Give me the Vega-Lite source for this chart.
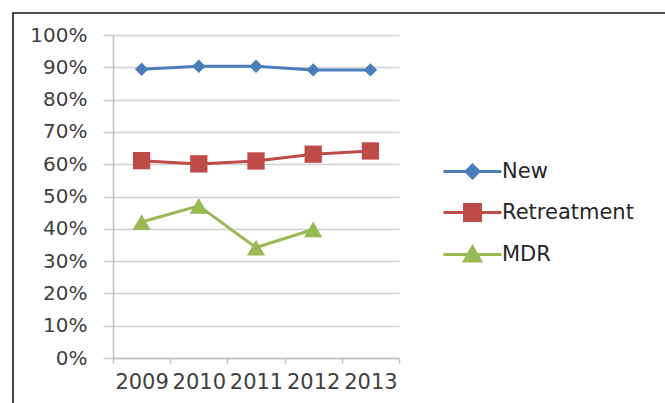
{
  "$schema": "https://vega.github.io/schema/vega-lite/v6.json",
  "autosize": "none",
  "width": 662,
  "height": 400,
  "padding": {"left": 13, "top": 13, "right": -10, "bottom": -10},
  "background": "white",
  "config": {
    "view": {"stroke": "#141414", "strokeWidth": 1.6},
    "font": "DejaVu Sans",
    "axis": {"labelFont": "DejaVu Sans", "labelColor": "#404040", "labelFontSize": 20}
  },
  "data": {
    "values": [
      {"year": "2009", "series": "New", "value": 0.894},
      {"year": "2010", "series": "New", "value": 0.903},
      {"year": "2011", "series": "New", "value": 0.903},
      {"year": "2012", "series": "New", "value": 0.892},
      {"year": "2013", "series": "New", "value": 0.892},
      {"year": "2009", "series": "Retreatment", "value": 0.611},
      {"year": "2010", "series": "Retreatment", "value": 0.601},
      {"year": "2011", "series": "Retreatment", "value": 0.61},
      {"year": "2012", "series": "Retreatment", "value": 0.631},
      {"year": "2013", "series": "Retreatment", "value": 0.641},
      {"year": "2009", "series": "MDR", "value": 0.421},
      {"year": "2010", "series": "MDR", "value": 0.471},
      {"year": "2011", "series": "MDR", "value": 0.342},
      {"year": "2012", "series": "MDR", "value": 0.398}
    ]
  },
  "encoding": {
    "x": {
      "field": "year", "type": "nominal", "sort": ["2009", "2010", "2011", "2012", "2013"],
      "scale": {"paddingInner": 0, "paddingOuter": 0, "range": [100, 386]},
      "axis": {
        "title": null, "labelAngle": 0, "tickBand": "extent", "tickSize": 5, "offset": -55,
        "tickColor": "#BFBFBF", "domainColor": "#BFBFBF", "domainWidth": 1.5, "tickWidth": 1.5,
        "labelPadding": 8, "labelFontSize": 21, "labelBaseline": "top"
      }
    },
    "y": {
      "field": "value", "type": "quantitative",
      "scale": {"domain": [0, 1], "nice": false, "range": [345, 22]},
      "axis": {
        "title": null, "format": ".0%", "values": [0, 0.1, 0.2, 0.3, 0.4, 0.5, 0.6, 0.7, 0.8, 0.9, 1],
        "offset": -100,
        "tickSize": 10, "tickColor": "#C8C8C8", "domainColor": "#BFBFBF", "domainWidth": 1.5,
        "gridColor": "#D0D0D0", "gridWidth": 1.5, "tickWidth": 1.5, "labelPadding": 16
      }
    },
    "color": {
      "field": "series", "type": "nominal", "sort": ["New", "Retreatment", "MDR"],
      "scale": {"domain": ["New", "Retreatment", "MDR"], "range": ["#4A7EBB", "#BE4B48", "#98B954"]},
      "legend": {
        "title": null, "orient": "none", "legendX": 448, "legendY": 147,
        "labelFontSize": 21, "labelColor": "#262626", "labelFont": "DejaVu Sans",
        "symbolSize": 400, "symbolStrokeWidth": 3, "labelOffset": 18, "rowPadding": 14,
        "encode": {
          "symbols": {
            "update": {
              "shape": {"signal": "datum.value === 'New' ? 'M-2.9,0H2.9M0,-0.65L0.65,0L0,0.65L-0.65,0Z' : datum.value === 'Retreatment' ? 'M-2.9,0H2.9M-0.8,-0.8H0.8V0.8H-0.8Z' : 'M-2.9,0H2.9M0,-0.75L0.8,0.65L-0.8,0.65Z'"},
              "fill": {"signal": "scale('color', datum.value)"},
              "stroke": {"signal": "scale('color', datum.value)"},
              "strokeWidth": {"value": 3},
              "opacity": {"value": 1}
            }
          }
        }
      }
    }
  },
  "layer": [
    {"mark": {"type": "line", "strokeWidth": 3}},
    {
      "transform": [{"filter": "datum.series === 'New'"}],
      "mark": {"type": "point", "filled": true, "opacity": 1, "shape": "diamond", "size": 180}
    },
    {
      "transform": [{"filter": "datum.series === 'Retreatment'"}],
      "mark": {"type": "point", "filled": true, "opacity": 1, "shape": "square", "size": 300}
    },
    {
      "transform": [{"filter": "datum.series === 'MDR'"}],
      "mark": {"type": "point", "filled": true, "opacity": 1, "shape": "triangle-up", "size": 330}
    }
  ]
}
